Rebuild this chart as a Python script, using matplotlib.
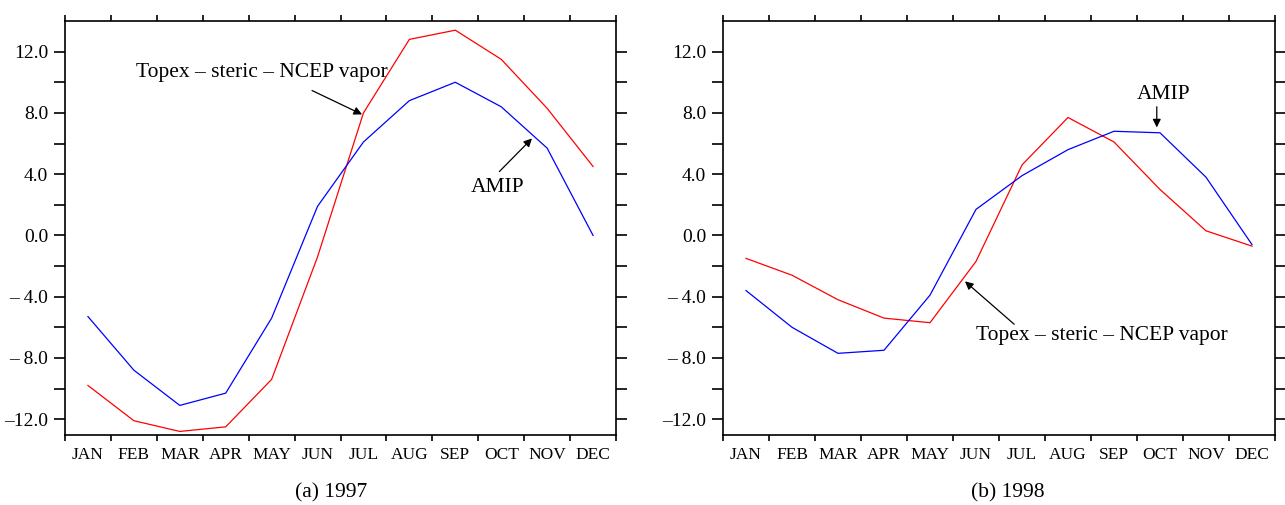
import matplotlib
matplotlib.use("Agg")
import matplotlib.pyplot as plt
from matplotlib.ticker import FixedLocator, FuncFormatter, NullFormatter

plt.rcParams['font.family'] = ['Liberation Serif', 'DejaVu Serif']

months = ["JAN", "FEB", "MAR", "APR", "MAY", "JUN", "JUL", "AUG", "SEP", "OCT", "NOV", "DEC"]

topex_1997 = [-9.8, -12.1, -12.8, -12.5, -9.4, -1.4, 8.0, 12.8, 13.4, 11.5, 8.3, 4.5]
amip_1997 = [-5.3, -8.8, -11.1, -10.3, -5.4, 1.9, 6.1, 8.8, 10.0, 8.4, 5.7, 0.0]

topex_1998 = [-1.5, -2.6, -4.2, -5.4, -5.7, -1.7, 4.6, 7.7, 6.1, 3.0, 0.3, -0.7]
amip_1998 = [-3.6, -6.0, -7.7, -7.5, -3.9, 1.7, 3.9, 5.6, 6.8, 6.7, 3.8, -0.6]

captions = ["(a) 1997", "(b) 1998"]
label_topex = "Topex \u2013 steric \u2013 NCEP vapor"
label_amip = "AMIP"

fig = plt.figure(figsize=(12.85, 5.05), dpi=100)
ax1 = fig.add_axes([65/1285, 1-434.5/505, (616-65)/1285, (434.5-21)/505])
ax2 = fig.add_axes([723/1285, 1-434.5/505, (1275-723)/1285, (434.5-21)/505])

x = list(range(1, 13))


def yfmt(v, pos):
    if abs(v) < 1e-9:
        return "0.0"
    if v < 0:
        s = "%.1f" % abs(v)
        return "\u2013" + (" " if len(s) < 4 else "") + s
    return "%.1f" % v


for ax, t, a in [(ax1, topex_1997, amip_1997), (ax2, topex_1998, amip_1998)]:
    ax.plot(x, t, color="#ff0000", lw=0.9)
    ax.plot(x, a, color="#0000ff", lw=0.9)
    ax.set_xlim(0.5, 12.5)
    ax.set_ylim(-13, 14)
    for s in ax.spines.values():
        s.set_linewidth(1.2)
    ax.xaxis.set_major_locator(FixedLocator([i + 0.5 for i in range(0, 13)]))
    ax.xaxis.set_major_formatter(NullFormatter())
    ax.xaxis.set_minor_locator(FixedLocator(x))
    ax.set_xticklabels(months, minor=True)
    ax.tick_params(axis='x', which='major', direction='out', length=4, width=1.2,
                   top=True, bottom=True)
    ax.tick_params(axis='x', which='minor', length=0, pad=9, labelsize=12.5,
                   top=False, bottom=True)
    ax.yaxis.set_major_locator(FixedLocator([-12, -8, -4, 0, 4, 8, 12]))
    ax.yaxis.set_minor_locator(FixedLocator([-10, -6, -2, 2, 6, 10]))
    ax.yaxis.set_major_formatter(FuncFormatter(yfmt))
    ax.tick_params(axis='y', which='both', direction='out', length=8, width=1.2,
                   left=True, right=True, labelsize=14, pad=4)

arrow = dict(arrowstyle='-|>', color='black', lw=0.9, mutation_scale=12,
             shrinkA=0, shrinkB=0)
fs = 15.5

# annotations left
ax1.text(4.78, 10.63, label_topex, ha='center', va='center', fontsize=fs)
ax1.annotate("", xy=(6.97, 7.9), xytext=(5.88, 9.46), arrowprops=arrow)
ax1.annotate("", xy=(10.67, 6.33), xytext=(9.96, 4.17), arrowprops=arrow)
ax1.text(9.93, 3.13, label_amip, ha='center', va='center', fontsize=fs)

# annotations right
ax2.text(10.07, 9.2, label_amip, ha='center', va='center', fontsize=fs)
ax2.annotate("", xy=(9.93, 7.05), xytext=(9.93, 8.4), arrowprops=arrow)
ax2.text(8.73, -6.52, label_topex, ha='center', va='center', fontsize=fs)
ax2.annotate("", xy=(5.76, -3.0), xytext=(6.83, -5.8), arrowprops=arrow)

fig.text(331/1285, 1-493/505, captions[0], ha='center', va='center', fontsize=15.5)
fig.text(1008/1285, 1-493/505, captions[1], ha='center', va='center', fontsize=15.5)

fig.savefig("out.png", dpi=100)
